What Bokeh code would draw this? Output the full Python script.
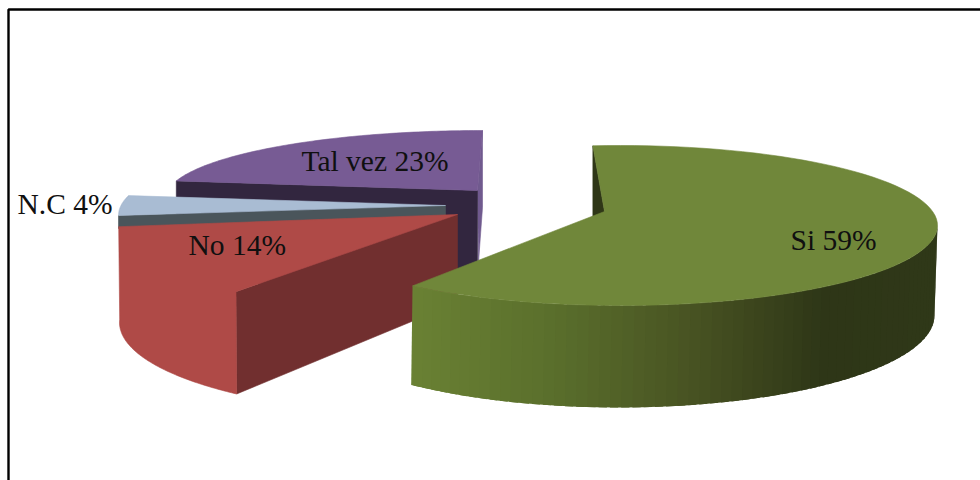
import math

from bokeh.core.properties import value
from bokeh.embed import file_html
from bokeh.models import Range1d
from bokeh.plotting import figure
from bokeh.resources import INLINE

# Survey answers, in the order the slices run clockwise.
categories = ["Si", "No", "N.C", "Tal vez"]
shares = [59, 14, 4, 23]

FIRST_SLICE_ANGLE = 7.2

# Per-slice projection: the rim ellipses of the top and bottom faces, the point
# where the cut faces meet, and how far the perspective shifts each end of the arc.
geometry = {
    "Si": dict(top=(620, 225, 317, 80), bottom=(618, 315, 316, 92), apex=(604, 211),
               bend=(-12.2, 1.4), drop=100, wall_from=90),
    "No": dict(top=(435, 229, 317, 80), bottom=(435, 322, 316, 92), apex=(457, 214),
               bend=(-0.6, 2.0), drop=88),
    "N.C": dict(top=(435, 215, 317, 80), apex=(445, 205), bend=(0.0, 0.0), drop=13),
    "Tal vez": dict(top=(482, 198, 317, 68), apex=(477, 190), bend=(0.6, -7.2), drop=100),
}

top_colors = {"Si": "#70873a", "No": "#af4a47", "N.C": "#a9bcd3", "Tal vez": "#775b94"}
cut_colors = {"Si": "#2f3717", "No": "#712f2f", "N.C": "#4a555b", "Tal vez": "#32263f"}

# Shading of the green outer wall, from its lit left end to its dark right end.
wall_shade = [(411, (107, 130, 52)), (560, (90, 111, 44)), (700, (72, 83, 34)),
              (830, (46, 54, 23)), (940, (47, 56, 24))]

label_anchor = {"Si": (790, 239), "No": (188, 244), "N.C": (17, 203), "Tal vez": (301, 160)}


def rim(ellipse, t):
    cx, cy, a, b = ellipse
    rad = math.radians(t)
    return cx + a * math.sin(rad), cy - b * math.cos(rad)


def arc(ellipse, t0, t1, steps=90):
    return [rim(ellipse, t0 + (t1 - t0) * i / steps) for i in range(steps + 1)]


def shade_at(x):
    for (x0, c0), (x1, c1) in zip(wall_shade, wall_shade[1:]):
        if x <= x1:
            f = max(0.0, (x - x0) / (x1 - x0))
            return "#%02x%02x%02x" % tuple(round(u + (v - u) * f) for u, v in zip(c0, c1))
    return "#%02x%02x%02x" % wall_shade[-1][1]


# Arc limits of each slice follow from the cumulative shares.
spans = {}
angle = FIRST_SLICE_ANGLE
for name, share in zip(categories, shares):
    sweep = share * 3.6
    g = geometry[name]
    spans[name] = (angle + g["bend"][0], angle + sweep + g["bend"][1])
    angle += sweep

p = figure(width=980, height=480, output_backend="svg", toolbar_location=None,
           x_range=Range1d(0, 980), y_range=Range1d(480, 0),
           x_axis_type=None, y_axis_type=None, min_border=0,
           outline_line_color=None, background_fill_color="white")
p.grid.visible = False


def fill(points, color, stroke=True):
    xs, ys = zip(*points)
    p.patch(list(xs), list(ys), fill_color=color,
            line_color=color if stroke else None, line_width=0.6)


def top_face(name):
    g = geometry[name]
    t0, t1 = spans[name]
    fill([g["apex"]] + arc(g["top"], t0, t1), top_colors[name])


# Far slice: thin right cut face, wide left cut face, then its top.
g = geometry["Tal vez"]
t0, t1 = spans["Tal vez"]
rx, ry = rim(g["top"], t1)
ax, ay = g["apex"]
fill([(ax, ay), (rx, ry), (rx, ry + 77), (ax + 1, ay + 72)], "#705a8e")
lx, ly = rim(g["top"], t0)
fill([(lx, ly), (ax, ay), (ax, ay + g["drop"]), (lx, ly + g["drop"])], cut_colors["Tal vez"])
top_face("Tal vez")

# Small slice: the dark cut face below its top.
g = geometry["N.C"]
t0, t1 = spans["N.C"]
lx, ly = rim(g["top"], t0)
ax, ay = g["apex"]
fill([(lx, ly), (ax, ay), (ax, ay + g["drop"]), (lx, ly + g["drop"])], cut_colors["N.C"])
top_face("N.C")

# Red slice: cut face, then top and outer wall as one outline so no seam shows.
g = geometry["No"]
t0, t1 = spans["No"]
sx, sy = rim(g["top"], t0)
bx, by = rim(g["bottom"], t0)
ax, ay = g["apex"]
fill([(ax, ay), (sx, sy), (bx, by), (ax, ay + g["drop"])], cut_colors["No"])
fill([g["apex"], rim(g["top"], t1)] + arc(g["bottom"], t1, t0) + [(sx, sy)], top_colors["No"])

# Green slice: inner cut face, banded outer wall, top.
g = geometry["Si"]
t0, t1 = spans["Si"]
sx, sy = rim(g["top"], t0)
ax, ay = g["apex"]
fill([(sx, sy), (sx, sy + g["drop"]), (ax, ay + g["drop"]), (ax, ay)], cut_colors["Si"])
bands = 64
for i in range(bands):
    # Each band runs on past the next one, which paints over the overlap.
    ta = t1 - (t1 - g["wall_from"]) * (i + 1) / bands
    tb = t1 - (t1 - g["wall_from"]) * i / bands
    near = min(t1, tb + 1.5) if i else tb
    pts = [rim(g["top"], ta), rim(g["top"], near), rim(g["bottom"], near), rim(g["bottom"], ta)]
    mid = rim(g["top"], (ta + tb) / 2)
    fill(pts, shade_at(mid[0]), stroke=False)
top_face("Si")

# Slice labels give the name and its share.
p.text(x=[label_anchor[c][0] for c in categories],
       y=[label_anchor[c][1] for c in categories],
       text=[f"{c} {s}%" for c, s in zip(categories, shares)],
       text_font=value("Liberation Serif"), text_font_size="29.5px",
       text_color="#101010", text_align="left", text_baseline="alphabetic")

# Picture border along the top and left.
p.line([8, 8, 980], [480, 9, 9], line_color="black", line_width=2.4)

open("out.html", "w").write(file_html(p, INLINE))
